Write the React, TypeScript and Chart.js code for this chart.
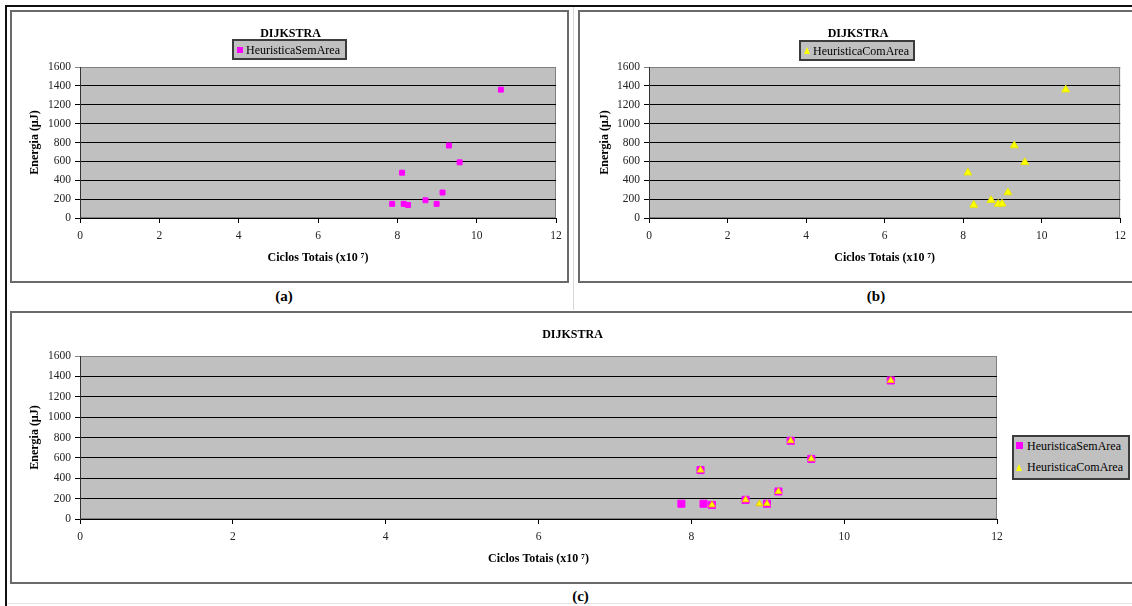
import React, { useEffect, useRef } from 'react';
import { Chart, registerables } from 'chart.js';

Chart.register(...registerables);

// ---------- data ----------
const CHART_TITLE = 'DIJKSTRA';
const X_TITLE = 'Ciclos Totais (x10 \u2077)';
const Y_TITLE = 'Energia (\u00b5J)';
const SERIES_SEM = 'HeuristicaSemArea';
const SERIES_COM = 'HeuristicaComArea';
const PANEL_LABELS = ['(a)', '(b)', '(c)'];

const X_TICKS = [0, 2, 4, 6, 8, 10, 12];
const Y_TICKS = [0, 200, 400, 600, 800, 1000, 1200, 1400, 1600];

const SEM_X = [7.87, 8.12, 8.16, 8.27, 8.71, 8.99, 9.14, 9.3, 9.57, 10.61];
const SEM_Y = [150, 480, 150, 138, 188, 150, 270, 768, 590, 1360];
const COM_X = [8.12, 8.27, 8.71, 8.89, 8.99, 9.14, 9.3, 9.57, 10.61];
const COM_Y = [480, 138, 188, 148, 150, 270, 768, 590, 1360];

// ---------- style ----------
const SERIF = "'Liberation Serif', 'Times New Roman', serif";
const MAGENTA = '#FF00FF';
const YELLOW = '#FFFF00';
const PLOT_BG = '#C0C0C0';

Chart.defaults.font.family = SERIF;

const plotBg = {
  id: 'plotBg',
  beforeDraw(chart: any) {
    const { ctx, chartArea: a } = chart;
    ctx.save();
    ctx.fillStyle = PLOT_BG;
    ctx.fillRect(a.left, a.top, a.right - a.left, a.bottom - a.top);
    ctx.strokeStyle = '#808080';
    ctx.lineWidth = 1;
    ctx.strokeRect(
      Math.round(a.left) + 0.5,
      Math.round(a.top) + 0.5,
      Math.round(a.right - a.left) - 1,
      Math.round(a.bottom - a.top) - 1
    );
    ctx.restore();
  },
};

const toPts = (xs: number[], ys: number[]) => xs.map((x, i) => ({ x, y: ys[i] }));

type PanelProps = {
  left: number;
  top: number;
  width: number;
  height: number;
  padding: { left: number; right: number; top: number; bottom: number };
  yWidth: number;
  yTitlePad: number;
  datasets: any[];
};

function ScatterPanel(p: PanelProps) {
  const ref = useRef<HTMLCanvasElement>(null);
  useEffect(() => {
    const chart = new Chart(ref.current as HTMLCanvasElement, {
      type: 'scatter',
      data: { datasets: p.datasets },
      options: {
        responsive: false,
        maintainAspectRatio: false,
        animation: false,
        devicePixelRatio: 1,
        layout: { padding: p.padding },
        plugins: {
          legend: { display: false },
          title: { display: false },
          tooltip: { enabled: false },
        },
        scales: {
          x: {
            type: 'linear',
            min: X_TICKS[0],
            max: X_TICKS[X_TICKS.length - 1],
            afterFit: (s: any) => {
              s.height = 64;
            },
            ticks: {
              stepSize: X_TICKS[1] - X_TICKS[0],
              padding: 6,
              color: '#222',
              font: { size: 11.5, family: SERIF },
              callback: (v: any) => String(v),
            },
            grid: {
              drawOnChartArea: false,
              drawTicks: true,
              tickLength: 5,
              color: '#000',
              lineWidth: 1,
            },
            border: { display: true, color: '#000', width: 1 },
            title: {
              display: true,
              text: X_TITLE,
              color: '#000',
              font: { size: 12, weight: 'bold', family: SERIF },
              padding: { top: 0, bottom: 17 },
            },
          },
          y: {
            type: 'linear',
            min: Y_TICKS[0],
            max: Y_TICKS[Y_TICKS.length - 1],
            afterFit: (s: any) => {
              s.width = p.yWidth;
            },
            ticks: {
              stepSize: Y_TICKS[1] - Y_TICKS[0],
              padding: 4,
              color: '#222',
              font: { size: 11.5, family: SERIF },
              callback: (v: any) => String(v),
            },
            grid: {
              drawOnChartArea: true,
              drawTicks: true,
              tickLength: 5,
              color: (c: any) =>
                c.tick && c.tick.value === Y_TICKS[Y_TICKS.length - 1] ? '#808080' : '#000',
              lineWidth: 1,
            },
            border: { display: true, color: '#333', width: 1 },
            title: {
              display: true,
              text: Y_TITLE,
              color: '#000',
              font: { size: 12, weight: 'bold', family: SERIF },
              padding: { top: p.yTitlePad, bottom: 0 },
            },
          },
        },
      } as any,
      plugins: [plotBg],
    });
    return () => chart.destroy();
  }, []);
  return (
    <canvas
      ref={ref}
      width={p.width}
      height={p.height}
      style={{ position: 'absolute', left: p.left, top: p.top, width: p.width, height: p.height }}
    />
  );
}

function Txt(props: { x: number; y: number; size: number; bold?: boolean; align?: 'center' | 'left'; children: any }) {
  return (
    <div
      style={{
        position: 'absolute',
        left: props.x,
        top: props.y,
        transform: props.align === 'left' ? 'translate(0,-50%)' : 'translate(-50%,-50%)',
        fontSize: props.size,
        fontWeight: props.bold ? 'bold' : 'normal',
        whiteSpace: 'nowrap',
        lineHeight: 1,
        color: '#000',
        fontFamily: SERIF,
      }}
    >
      {props.children}
    </div>
  );
}

function Box(props: { l: number; t: number; w: number; h: number; border: string; bg?: string; children?: any }) {
  return (
    <div
      style={{
        position: 'absolute',
        left: props.l,
        top: props.t,
        width: props.w,
        height: props.h,
        boxSizing: 'border-box',
        border: props.border,
        background: props.bg || 'transparent',
      }}
    >
      {props.children}
    </div>
  );
}

function Square({ x, y, s }: { x: number; y: number; s: number }) {
  return <div style={{ position: 'absolute', left: x, top: y, width: s, height: s, background: MAGENTA }} />;
}

function Tri({ x, y, w }: { x: number; y: number; w: number }) {
  return (
    <div
      style={{
        position: 'absolute',
        left: x,
        top: y,
        width: 0,
        height: 0,
        borderLeft: `${w / 2}px solid transparent`,
        borderRight: `${w / 2}px solid transparent`,
        borderBottom: `${w}px solid ${YELLOW}`,
      }}
    />
  );
}

const semA = {
  label: SERIES_SEM,
  data: toPts(SEM_X, SEM_Y),
  pointStyle: 'rect',
  pointRadius: 3.5,
  backgroundColor: MAGENTA,
  borderColor: MAGENTA,
  borderWidth: 1,
};
const comB = {
  label: SERIES_COM,
  data: toPts(COM_X, COM_Y),
  pointStyle: 'triangle',
  pointRadius: 4.5,
  backgroundColor: YELLOW,
  borderColor: '#E8E800',
  borderWidth: 1,
};
const semC = {
  label: SERIES_SEM,
  data: toPts(SEM_X, SEM_Y),
  pointStyle: 'rect',
  pointRadius: 5,
  backgroundColor: MAGENTA,
  borderColor: MAGENTA,
  borderWidth: 1,
  order: 2,
};
const comC = {
  label: SERIES_COM,
  data: toPts(COM_X, COM_Y),
  pointStyle: 'triangle',
  pointRadius: 3.8,
  backgroundColor: YELLOW,
  borderColor: '#F2C000',
  borderWidth: 1,
  order: 1,
};

export default function App() {
  return (
    <div
      style={{
        position: 'absolute',
        left: 0,
        top: 0,
        width: 1132,
        height: 606,
        overflow: 'hidden',
        background: '#fff',
        fontFamily: SERIF,
      }}
    >
      {/* outer frame lines */}
      <div style={{ position: 'absolute', left: 5, top: 5, width: 1130, height: 2, background: '#111' }} />
      <div style={{ position: 'absolute', left: 5, top: 5, width: 2, height: 601, background: '#111' }} />
      <div style={{ position: 'absolute', left: 573, top: 7, width: 1, height: 303, background: '#d8d8d8' }} />
      <div style={{ position: 'absolute', left: 7, top: 603, width: 1125, height: 1, background: '#e4e4e4' }} />

      {/* panel boxes */}
      <Box l={10} t={10} w={559} h={273} border="2px solid #6a6a6a" />
      <Box l={578} t={10} w={570} h={273} border="2px solid #6a6a6a" />
      <Box l={10} t={311} w={1140} h={273} border="2px solid #6a6a6a" />

      {/* panel (a) */}
      <ScatterPanel
        left={11}
        top={11}
        width={557}
        height={271}
        padding={{ left: 0, right: 12, top: 56, bottom: 0 }}
        yWidth={69}
        yTitlePad={17}
        datasets={[semA]}
      />
      <Txt x={290.5} y={32.5} size={12} bold>
        {CHART_TITLE}
      </Txt>
      <Box l={232} t={39} w={115} h={21} border="2px solid #3c3c3c" bg={PLOT_BG} />
      <Square x={237} y={47} s={6} />
      <Txt x={246} y={49.5} size={12} align="left">
        {SERIES_SEM}
      </Txt>
      <Txt x={284} y={296} size={15} bold>
        {PANEL_LABELS[0]}
      </Txt>

      {/* panel (b) */}
      <ScatterPanel
        left={579}
        top={11}
        width={553}
        height={271}
        padding={{ left: 0, right: 7, top: 56, bottom: 0 }}
        yWidth={70}
        yTitlePad={18.6}
        datasets={[comB]}
      />
      <Txt x={858} y={32.5} size={12} bold>
        {CHART_TITLE}
      </Txt>
      <Box l={799} t={40} w={116} h={21} border="2px solid #3c3c3c" bg={PLOT_BG} />
      <Tri x={803.5} y={47} w={7} />
      <Txt x={813} y={50.5} size={12} align="left">
        {SERIES_COM}
      </Txt>
      <Txt x={876} y={296} size={15} bold>
        {PANEL_LABELS[1]}
      </Txt>

      {/* panel (c) */}
      <ScatterPanel
        left={11}
        top={312}
        width={1121}
        height={271}
        padding={{ left: 0, right: 135, top: 44, bottom: 0 }}
        yWidth={69}
        yTitlePad={17}
        datasets={[semC, comC]}
      />
      <Txt x={572.5} y={333.5} size={12} bold>
        {CHART_TITLE}
      </Txt>
      <Box l={1012} t={435} w={118} h={45} border="2px solid #3c3c3c" bg={PLOT_BG} />
      <Square x={1016} y={442} s={7} />
      <Txt x={1027} y={445.7} size={12} align="left">
        {SERIES_SEM}
      </Txt>
      <Tri x={1015.5} y={463.5} w={7} />
      <Txt x={1027} y={467.3} size={12} align="left">
        {SERIES_COM}
      </Txt>
      <Txt x={580.5} y={596} size={15} bold>
        {PANEL_LABELS[2]}
      </Txt>
    </div>
  );
}
